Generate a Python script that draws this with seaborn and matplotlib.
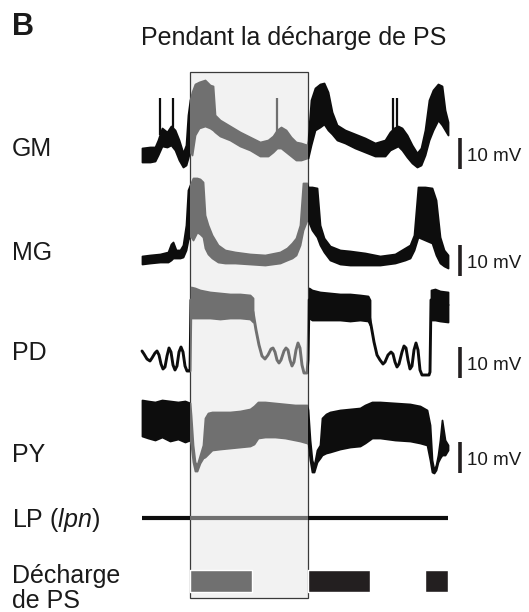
import numpy as np
import pandas as pd
import matplotlib
matplotlib.use("Agg")
import matplotlib.pyplot as plt
from matplotlib.patches import Rectangle
import seaborn as sns

# ---------------- data (figure units: x = time, y = position) -------------
box_window = (190, 308)          # time window "pendant la décharge de PS"

# GM envelope
gm_x   = [142,150,155,158,162,167,171,175,179,183,186,188,190,
          192,195,199,205,210,213,215,220,230,240,250,260,268,273,277,281,286,291,296,301,307,
          308,311,315,320,324,328,332,337,345,355,365,375,385,390,394,398,402,407,412,417,421,425,429,433,438,442,445,448]
gm_top = [148,147,147,140,128,132,126,130,140,153,145,115,100,
          92,84,82,80,85,86,115,120,126,132,137,142,140,136,130,127,130,137,142,143,145,
          140,100,88,84,83,92,112,125,130,134,138,143,140,132,128,126,128,135,145,153,148,130,100,90,84,86,110,122]
gm_bot = [162,162,161,155,146,147,145,150,160,167,165,158,150,
          155,135,128,126,128,130,132,136,140,146,150,156,156,152,148,148,152,156,160,160,158,
          158,145,130,127,124,130,134,140,143,148,152,156,156,150,148,146,150,157,163,167,165,155,140,130,120,125,130,135]
gm_spk_x   = [160,173,277,393,397]
gm_spk_top = [98,98,98,98,98]
gm_spk_bot = [135,130,135,130,130]

# MG envelope
mg_x   = [142,150,160,168,171,173,176,180,183,186,188,190,
          193,197,200,203,205,208,212,218,225,235,250,265,280,287,292,296,300,303,307,
          308,312,317,320,324,330,340,350,365,380,395,405,410,414,418,425,432,436,440,444,448]
mg_top = [256,255,254,252,244,242,250,250,245,225,190,185,
          178,178,179,182,215,225,235,245,250,252,254,255,252,248,243,238,225,183,183,
          187,187,188,225,238,246,250,251,253,256,254,248,245,235,187,187,188,200,237,250,255]
mg_bot = [264,263,262,262,260,258,258,258,257,250,240,235,
          240,232,234,237,248,254,258,262,263,263,264,265,263,260,258,255,245,230,220,
          220,230,237,245,252,260,264,265,265,265,263,260,258,250,237,240,243,255,263,266,268]

# PD: slow-wave trace (thin line) + burst plateaus (filled)
pd_x = [142,144,147,150,152,155,157,159,161,163,165,167,169,171,173,175,177,179,181,183,185,187,189,190,191,
        220,253,256,259,262,265,268,271,273,275,277,279,281,284,286,288,290,292,294,296,298,300,302,304,307,308,309,
        340,368,371,374,377,380,383,385,388,391,393,395,397,399,402,404,406,408,410,412,414,416,418,420,422,429,430,431,448]
pd_y = [351,354,359,361,358,353,351,355,364,369,367,356,348,352,365,370,366,352,347,352,366,371,371,371,300,
        305,312,330,345,356,359,355,349,348,352,360,363,360,351,348,350,360,366,362,350,343,348,365,373,373,360,300,
        305,310,325,342,355,360,364,362,355,352,354,362,367,364,352,346,348,360,369,366,350,343,350,370,375,375,372,300,305]
pd_plateaus = [
    dict(x=[191,195,200,210,220,230,240,250,253],
         top=[287,288,290,292,293,294,294,295,298],
         bot=[318,318,318,318,319,318,318,319,322]),
    dict(x=[309,312,320,330,340,350,360,368,370],
         top=[288,290,292,293,294,294,295,296,300],
         bot=[318,320,320,320,320,321,320,321,325]),
    dict(x=[431,435,440,448],
         top=[290,289,291,292],
         bot=[320,320,321,322]),
]

# PY envelope
py_x   = [142,148,155,162,170,178,185,190,
          191,193,195,197,200,203,205,208,212,220,230,240,250,254,258,265,275,285,295,300,307,
          308,310,312,314,317,320,322,326,330,340,350,360,365,372,380,395,410,420,427,430,432,434,436,438,440,442,445,448]
py_top = [400,401,402,400,401,402,401,403,
          415,445,462,465,455,445,418,413,412,412,412,411,409,406,402,402,403,404,405,405,405,
          410,440,460,466,450,445,418,414,412,410,409,408,405,402,402,403,404,406,410,425,460,470,465,455,440,420,440,445]
py_bot = [436,438,440,437,441,439,442,440,
          445,462,471,471,463,458,457,454,450,449,448,447,446,444,438,437,437,438,440,441,443,
          443,460,472,472,462,458,455,453,452,449,447,446,443,438,438,440,441,443,445,460,472,473,470,462,458,455,455,450]

# LP (lpn): flat trace
lp_x = [142, 448]
lp_y = 518

# PS discharge bursts (start, duration)
ps_bursts = [(190, 62), (308, 62), (425, 23)]
ps_row = (570, 22)

trace_labels = ["GM", "MG", "PD", "PY"]
label_baselines = [156, 260, 360, 462]
scale_tops = [138, 245, 347, 442]
scale_len = 31          # 10 mV
scale_text = "10 mV"

# ---------------- style ----------------
BLACK = "#0d0d0d"
GREY = "#707070"
INK = "#231f20"

sns.set_theme(style="white")
plt.rcParams['font.family'] = ['Liberation Sans', 'DejaVu Sans']
plt.rcParams['mathtext.fontset'] = 'custom'
plt.rcParams['mathtext.rm'] = 'Liberation Sans'
plt.rcParams['mathtext.it'] = 'Liberation Sans:italic'

fig = plt.figure(figsize=(5.29, 6.12), dpi=100)
ax = fig.add_axes([0, 0, 1, 1])
ax.set_xlim(0, 529)
ax.set_ylim(612, 0)
ax.axis('off')

bx0, bx1 = box_window
# highlighted window
ax.add_patch(Rectangle((bx0, 72), bx1 - bx0, 526, facecolor="#f2f2f2",
                       edgecolor="#3a3a3a", lw=0.9, zorder=0))

regions = [(0, bx0, BLACK), (bx0, bx1, GREY), (bx1, 529, BLACK)]

def clipped(draw):
    for x0, x1, col in regions:
        arts = draw(col)
        if not isinstance(arts, (list, tuple)):
            arts = [arts]
        for a in arts:
            a.set_clip_path(Rectangle((x0, 0), x1 - x0, 612, transform=ax.transData))

# GM
clipped(lambda c: ax.fill_between(gm_x, gm_top, gm_bot, color=c, lw=1.3, zorder=2))
clipped(lambda c: ax.vlines(gm_spk_x, gm_spk_top, gm_spk_bot, color=c, lw=1.6, zorder=2))
# MG
clipped(lambda c: ax.fill_between(mg_x, mg_top, mg_bot, color=c, lw=1.3, zorder=2))
# PD
pd_df = pd.DataFrame({"t": pd_x, "v": pd_y})
def draw_pd(c):
    n0 = len(ax.lines)
    sns.lineplot(data=pd_df, x="t", y="v", color=c, lw=2.1, sort=False,
                 estimator=None, ax=ax, zorder=2)
    arts = list(ax.lines[n0:])
    for p in pd_plateaus:
        arts.append(ax.fill_between(p["x"], p["top"], p["bot"], color=c, lw=1.3, zorder=2))
    return arts
clipped(draw_pd)
# PY
clipped(lambda c: ax.fill_between(py_x, py_top, py_bot, color=c, lw=1.3, zorder=2))

# LP: split at the window edges
lp_segments = [(lp_x[0], bx0, BLACK), (bx0, bx1, GREY), (bx1, lp_x[1], BLACK)]
for s0, s1, col in lp_segments:
    ax.hlines(lp_y, s0, s1, color=col, lw=3.0, zorder=2)

# PS discharge bars
for start, dur in ps_bursts:
    col = GREY if bx0 <= start < bx1 else INK
    ax.broken_barh([(start, dur)], ps_row, facecolors=col, zorder=2)

ax.set_xlim(0, 529)
ax.set_ylim(612, 0)
ax.set_xlabel("")
ax.set_ylabel("")

# scale bars
for top in scale_tops:
    ax.vlines(459.8, top, top + scale_len, color=INK, lw=2.6, zorder=3)
    ax.text(467, top + scale_len - 8, scale_text, fontsize=13.5, va='baseline',
            ha='left', color="#1a1a1a")

# texts
TXT = "#1a1a1a"
ax.text(12, 35, "B", fontsize=22, fontweight='bold', va='baseline', color=TXT)
ax.text(141, 45, "Pendant la décharge de PS", fontsize=18, va='baseline', color=TXT)
for lab, yb in zip(trace_labels, label_baselines):
    ax.text(12, yb, lab, fontsize=18, va='baseline', color=TXT)
ax.text(12, 527, r"LP ($\mathit{lpn}$)", fontsize=18, va='baseline', color=TXT)
ax.text(12, 583, "Décharge", fontsize=18, va='baseline', color=TXT)
ax.text(12, 608, "de PS", fontsize=18, va='baseline', color=TXT)

fig.savefig("out.png", dpi=100)
